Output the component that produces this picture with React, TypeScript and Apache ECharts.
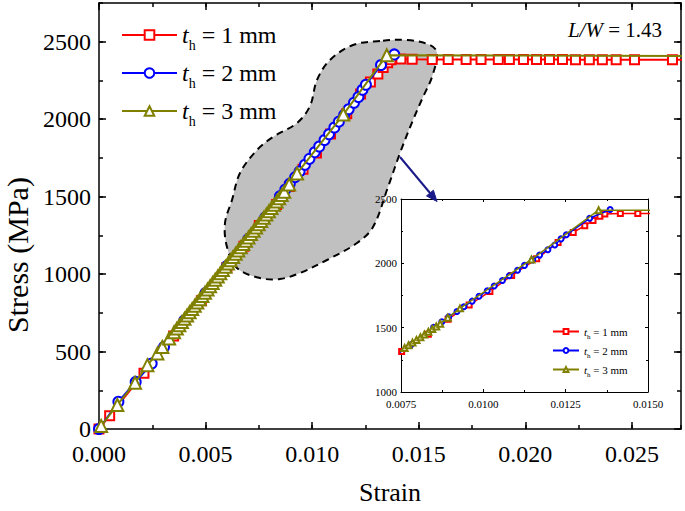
import React, { useEffect, useRef } from "react";
import * as echarts from "echarts";

const FONT = "'Liberation Serif', 'Times New Roman', serif";

// ---------- data ----------
const thicknesses = [1, 2, 3];
const seriesColors = ["#ff0000", "#0000ff", "#808000"];

const redStrain = [0, 0.0005, 0.00211, 0.0035, 0.0048, 0.006, 0.0068, 0.00752, 0.00833, 0.00893, 0.00957, 0.0102, 0.01086, 0.01162, 0.01227, 0.01273, 0.01308, 0.01333, 0.01354, 0.01369, 0.01416, 0.01469, 0.01563, 0.01638, 0.01722, 0.01792, 0.01873, 0.01925, 0.01991, 0.02052, 0.02113, 0.02174, 0.02235, 0.023, 0.02361, 0.02426, 0.02512, 0.0269];
const redStress = [0, 86, 360, 600, 828, 1043, 1180, 1314, 1449, 1566, 1677, 1781, 1905, 2035, 2162, 2240, 2292, 2333, 2365, 2383, 2388, 2387, 2386, 2386, 2386, 2385, 2385, 2385, 2385, 2385, 2385, 2385, 2384, 2384, 2384, 2384, 2384, 2384];
const redEnd = [0.028, 2384];

const blueStrain = [0, 0.00091, 0.00172, 0.00247, 0.00305, 0.004, 0.005, 0.006, 0.007, 0.0078, 0.00849, 0.00874, 0.00895, 0.0092, 0.00941, 0.00966, 0.00987, 0.01012, 0.01033, 0.01058, 0.01079, 0.01104, 0.01125, 0.0115, 0.01171, 0.01196, 0.01217, 0.01236, 0.01252, 0.01323, 0.01385];
const blueStress = [0, 176, 304, 423, 530, 700, 878, 1052, 1226, 1366, 1503, 1546, 1584, 1626, 1663, 1706, 1744, 1787, 1824, 1866, 1903, 1946, 1984, 2027, 2064, 2106, 2143, 2190, 2222, 2350, 2418];

const oliveStrain = [0.0001, 0.00086, 0.00169, 0.00227, 0.00274, 0.00297, 0.00329, 0.00352, 0.00365, 0.00377, 0.00389, 0.00401, 0.00413, 0.00425, 0.00437, 0.00449, 0.00461, 0.00473, 0.00485, 0.00497, 0.00509, 0.00521, 0.00533, 0.00545, 0.00557, 0.00569, 0.00581, 0.00593, 0.00605, 0.00617, 0.00629, 0.00641, 0.00653, 0.00665, 0.00677, 0.00689, 0.00701, 0.00713, 0.00725, 0.00737, 0.00749, 0.00761, 0.00773, 0.00785, 0.00797, 0.00809, 0.00821, 0.00833, 0.00845, 0.00857, 0.00869, 0.00892, 0.00929, 0.01146, 0.0135];
const oliveStress = [20, 155, 298, 412, 488, 530, 584, 625, 648, 669, 690, 711, 733, 754, 775, 796, 817, 838, 859, 880, 901, 922, 943, 964, 985, 1006, 1027, 1048, 1069, 1090, 1111, 1132, 1153, 1174, 1195, 1216, 1237, 1258, 1279, 1300, 1321, 1342, 1363, 1384, 1405, 1426, 1447, 1468, 1489, 1510, 1531, 1578, 1650, 2030, 2413];
const oliveEnd = [0.028, 2408];

const mainXTicks = [0, 0.0273, 0.005, 0.0025]; // min, max, major, minor
const mainYTicks = [0, 2750, 500, 250];
const insetXTicks = [0.0075, 0.015, 0.0025];
const insetYTicks = [1000, 2500, 500];

const strainList = [redStrain, blueStrain, oliveStrain];
const stressList = [redStress, blueStress, oliveStress];
const endList: (number[] | null)[] = [redEnd, null, oliveEnd];
const mainSymbols = ["emptyRect", "emptyCircle", "emptyTriangle"];
const mainSymbolSizes = [9, 10, 12];
const insetSymbolSizes = [5, 5, 6];

function buildData(strain: number[], stress: number[], end: number[] | null) {
  const d: any[] = strain.map((s, i) => [s, stress[i]]);
  if (end) d.push({ value: end, symbol: "none" });
  return d;
}

const nameOf = (t: number) => `t_h = ${t} mm`;

function richFor(fs: number, sub: number, pad: number) {
  return {
    i: { fontStyle: "italic", fontSize: fs, fontFamily: FONT, color: "#000", lineHeight: fs, verticalAlign: "top" },
    s: { fontSize: sub, fontFamily: FONT, color: "#000", lineHeight: sub, padding: [pad, 0, 0, 0], verticalAlign: "top" },
    n: { fontSize: fs, fontFamily: FONT, color: "#000", lineHeight: fs, verticalAlign: "top" },
  };
}
const legendFormatter = (name: string) => {
  const rest = name.split("= ")[1];
  return `{i|t}{s|h}{n| = ${rest}}`;
};

function axisX(grid: number, min: number, max: number, interval: number, pos: string, opts: any) {
  return {
    type: "value", gridIndex: grid, min, max, interval, position: pos,
    splitLine: { show: false },
    axisLine: { show: opts.line, onZero: false, lineStyle: { color: "#000", width: opts.lw ?? 1.5 } },
    axisTick: { show: true, inside: true, length: opts.tick, lineStyle: { color: "#000", width: opts.lw ?? 1.5 } },
    minorTick: opts.minor ? { show: true, splitNumber: 2, length: opts.minor, lineStyle: { color: "#000", width: 1 } } : { show: false },
    axisLabel: opts.label ? { show: true, ...opts.label } : { show: false },
    ...(opts.extra || {}),
  };
}

export default function App() {
  const ref = useRef<HTMLDivElement>(null);
  useEffect(() => {
    if (!ref.current) return;
    const chart = echarts.init(ref.current, undefined, { renderer: "svg" });

    const mainLabel = { fontSize: 24, lineHeight: 18, fontFamily: FONT, color: "#000" };
    const insetLabel = { fontSize: 11, fontFamily: FONT, color: "#000" };

    const xAxis = [
      axisX(0, mainXTicks[0], mainXTicks[1], mainXTicks[2], "bottom", {
        line: true, tick: 7,
        label: { ...mainLabel, margin: 16, showMaxLabel: false, formatter: (v: number) => v.toFixed(3) },
        extra: { name: "Strain", nameLocation: "middle", nameGap: 50, nameTextStyle: { fontSize: 26, fontFamily: FONT, color: "#000" } },
      }),
      axisX(0, mainXTicks[0], mainXTicks[1], mainXTicks[3], "bottom", { line: false, tick: 4 }),
      axisX(0, mainXTicks[0], mainXTicks[1], mainXTicks[2], "top", { line: true, tick: 7 }),
      axisX(0, mainXTicks[0], mainXTicks[1], mainXTicks[3], "top", { line: false, tick: 4 }),
      axisX(1, insetXTicks[0], insetXTicks[1], insetXTicks[2], "bottom", {
        line: true, tick: 3, minor: 2, lw: 1,
        label: { ...insetLabel, margin: 6, formatter: (v: number) => v.toFixed(4) },
      }),
      axisX(1, insetXTicks[0], insetXTicks[1], insetXTicks[2], "top", { line: true, tick: 3, minor: 2, lw: 1 }),
    ];
    const yAxis = [
      axisX(0, mainYTicks[0], mainYTicks[1], mainYTicks[2], "left", {
        line: true, tick: 7,
        label: { ...mainLabel, margin: 8, showMaxLabel: false, formatter: (v: number) => String(Math.round(v)) },
        extra: { name: "Stress (MPa)", nameLocation: "middle", nameGap: 69, nameRotate: 90, nameTextStyle: { fontSize: 30, lineHeight: 24, fontFamily: FONT, color: "#000", padding: [0, 78, 0, 0] } },
      }),
      axisX(0, mainYTicks[0], mainYTicks[1], mainYTicks[3], "left", { line: false, tick: 4 }),
      axisX(0, mainYTicks[0], mainYTicks[1], mainYTicks[2], "right", { line: true, tick: 7 }),
      axisX(0, mainYTicks[0], mainYTicks[1], mainYTicks[3], "right", { line: false, tick: 4 }),
      axisX(1, insetYTicks[0], insetYTicks[1], insetYTicks[2], "left", {
        line: true, tick: 3, minor: 2, lw: 1,
        label: { ...insetLabel, margin: 4, formatter: (v: number) => String(Math.round(v)) },
      }),
      axisX(1, insetYTicks[0], insetYTicks[1], insetYTicks[2], "right", { line: true, tick: 3, minor: 2, lw: 1 }),
    ];

    const series: any[] = [];
    thicknesses.forEach((t, k) => {
      const data = buildData(strainList[k], stressList[k], endList[k]);
      series.push({
        name: nameOf(t), type: "line", xAxisIndex: 0, yAxisIndex: 0, data, clip: true,
        symbol: mainSymbols[k], symbolSize: mainSymbolSizes[k], color: seriesColors[k],
        lineStyle: { color: seriesColors[k], width: 2 },
        itemStyle: { color: seriesColors[k], borderWidth: 1 },
        z: 2 + k,
      });
    });
    thicknesses.forEach((t, k) => {
      const data = buildData(strainList[k], stressList[k], endList[k]);
      series.push({
        name: nameOf(t), type: "line", xAxisIndex: 4, yAxisIndex: 4, data, clip: true,
        symbol: mainSymbols[k], symbolSize: insetSymbolSizes[k], color: seriesColors[k],
        lineStyle: { color: seriesColors[k], width: 1.5 },
        itemStyle: { color: seriesColors[k], borderWidth: 0.8 },
        z: 2 + k,
      });
    });

    const names = thicknesses.map(nameOf);

    // blob outline (annotation, pixel coordinates)
    const blob = [
      [380, 41], [353, 45], [330, 60], [317, 80], [310, 106], [297, 123], [273, 137], [257, 150],
      [240, 173], [232, 200], [225, 223], [227, 247], [237, 268], [260, 278], [280, 279], [300, 273],
      [327, 260], [357, 243], [373, 227], [388, 187], [400, 153], [413, 120], [423, 97], [432, 77],
      [437, 53], [430, 45], [407, 40],
    ];

    chart.setOption({
      animation: false,
      backgroundColor: "#fff",
      grid: [
        { left: 99, top: 3, right: 4, bottom: 82, containLabel: false, outerBoundsMode: "none" },
        { left: 401, top: 199, width: 247, height: 193, containLabel: false, outerBoundsMode: "none" },
      ],
      xAxis,
      yAxis,
      legend: [
        {
          data: names, orient: "vertical", left: 121, top: 23, padding: 0,
          itemWidth: 55, itemHeight: 12, itemGap: 9, selectedMode: false,
          formatter: legendFormatter,
          textStyle: { fontSize: 24, fontFamily: FONT, color: "#000", rich: richFor(24, 14, 15) },
        },
        {
          data: names, orient: "vertical", left: 552, top: 326, padding: 0,
          itemWidth: 26, itemHeight: 6, itemGap: 5, selectedMode: false,
          formatter: legendFormatter,
          textStyle: { fontSize: 11, fontFamily: FONT, color: "#000", rich: richFor(11, 7, 7) },
        },
      ],
      graphic: [
        {
          type: "polygon", z: 0, silent: true,
          shape: { points: blob, smooth: 0.35 },
          style: { fill: "#c0c0c0", stroke: "#000", lineWidth: 2, lineDash: [7, 5] },
        },
        {
          type: "line", z: 5, silent: true,
          shape: { x1: 400, y1: 157, x2: 430, y2: 193 },
          style: { stroke: "#1a1a8a", lineWidth: 2 },
        },
        {
          type: "polygon", z: 5, silent: true,
          shape: { points: [[437, 201.5], [426.5, 195.9], [433.4, 190.2]] },
          style: { fill: "#1a1a8a", stroke: "#1a1a8a", lineWidth: 1 },
        },
        {
          type: "text", z: 5, silent: true, x: 662, y: 30,
          style: {
            text: "{i|L/W}{n| = 1.43}",
            align: "right", verticalAlign: "middle",
            fontSize: 21, fontFamily: FONT, fill: "#000",
            rich: {
              i: { fontStyle: "italic", fontSize: 21, fontFamily: FONT, fill: "#000" },
              n: { fontSize: 21, fontFamily: FONT, fill: "#000" },
            },
          },
        },
      ],
      series,
    });
    return () => chart.dispose();
  }, []);
  return <div ref={ref} style={{ position: "fixed", left: 0, top: 0, width: 685, height: 511 }} />;
}
